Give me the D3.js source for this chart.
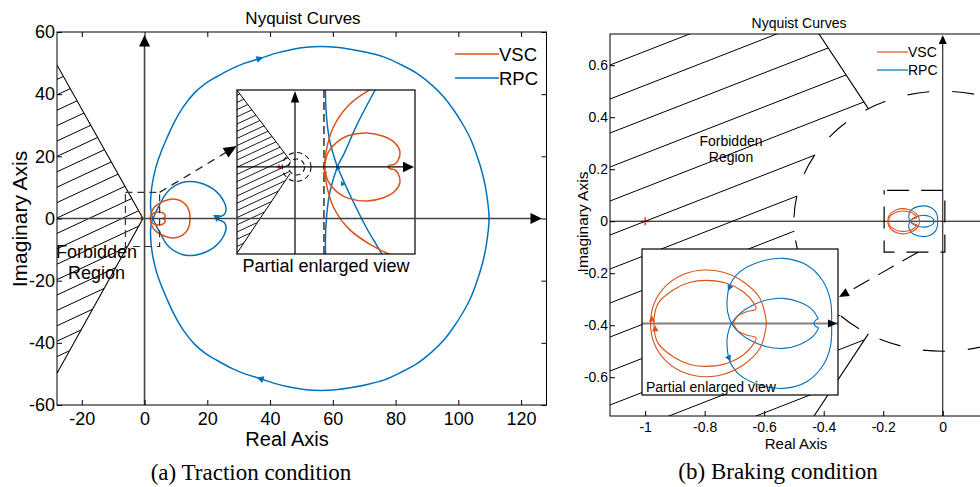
<!DOCTYPE html>
<html><head><meta charset="utf-8">
<script src="https://cdn.jsdelivr.net/npm/d3@7"></script>
<style>
body{margin:0;background:#fff}
svg{display:block}
text{font-family:"Liberation Sans",Arial,Helvetica,sans-serif;fill:#000}
.serif{font-family:"Liberation Serif","Times New Roman",serif}
</style></head>
<body><svg id="c" width="980" height="487"></svg>
<script>
// ================= DATA =================
const seriesNames = ["VSC", "RPC"];
// ---- Panel (a): traction condition ----
const aXTicks = [-20, 0, 20, 40, 60, 80, 100, 120];
const aYTicks = [-60, -40, -20, 0, 20, 40, 60];
const aXDomain = [-27.9, 128.1];
const aYDomain = [-60, 60];
const aRPC = [
 [2.65,0],[2.2,1.5],[1.98,3],[1.9,4.8],[2.0,7],[2.3,10],[2.9,13.5],[3.9,17.5],[5.3,21.5],[7.1,25.8],[9.5,31],
 [12.4,36],[16,40.5],[19.5,43.5],[23,45.6],[28,48.3],[32,50],[36.8,51.5],[42,53.2],[47,54.4],[51.5,55.1],[56,55.3],
 [61,55.1],[66,54.4],[71,53.4],[76.2,52],[81.5,49.6],[86.8,46.7],[91.5,43],[95.3,39.2],[98.8,34.5],[101.6,30],
 [103.8,25.8],[106,20],[107.8,14],[109,8],[109.8,0],
 [109,-8],[107.8,-14],[106,-20],[103.8,-25.8],[101.6,-30],[98.8,-34.5],[95.3,-39.2],[91.5,-43],[86.8,-46.7],
 [81.5,-49.6],[76.2,-52],[71,-53.4],[66,-54.4],[61,-55.1],[56,-55.3],[51.5,-55.1],[47,-54.4],[42,-53.2],[36.8,-51.5],
 [32,-50],[28,-48.3],[23,-45.6],[19.5,-43.5],[16,-40.5],[12.4,-36],[9.5,-31],[7.1,-25.8],[5.3,-21.5],[3.9,-17.5],
 [2.9,-13.5],[2.3,-10],[2.0,-7],[1.9,-4.8],[1.98,-3],[2.2,-1.5],[2.65,0],
 [3.1,0.9],[3.85,2.6],[5.0,4.8],[6.5,7.5],[8.2,9.5],[10.5,11],[13,11.8],[16,11.8],[19,11],[21.8,9.5],[24,7.5],
 [25.5,5],[26,3],[25.4,1.3],[23.8,0.5],[23,0],[23.8,-0.5],[25.4,-1.3],[26,-3],[25.5,-5],[24,-7.5],[21.8,-9.5],
 [19,-11],[16,-11.8],[13,-11.8],[10.5,-11],[8.2,-9.5],[6.5,-7.5],[5.4,-5.4],[4.48,-3.83],[3.44,-1.75],[2.65,0]
];
const aVSCOuter = [
 [1.85,0],[1.95,-1.0],[2.4,-2.5],[3.4,-3.9],[4.8,-4.9],[6.5,-5.7],[8.3,-6.2],[10.3,-6.1],[12.2,-5.3],[13.6,-3.8],
 [14.3,-2],[14.5,0],[14.3,2],[13.6,3.8],[12.2,5.3],[10.3,6.1],[8.3,6.2],[6.5,5.7],[4.8,4.9],[3.4,3.9],[2.4,2.5],
 [1.95,1.0],[1.85,0]
];
const aVSCInner = [
 [1.85,0],[1.9,0.35],[2.08,0.92],[2.6,1.54],[3.3,1.95],[4.48,2.12],[5.52,1.92],[6.25,1.5],[6.56,0.96],[6.46,0.45],
 [6.22,0.16],[5.98,0.13],[5.82,0],[5.98,-0.13],[6.22,-0.16],[6.46,-0.45],[6.56,-0.96],[6.25,-1.5],[5.52,-1.92],
 [4.48,-2.12],[3.3,-1.95],[2.6,-1.54],[2.08,-0.92],[1.9,-0.35],[1.85,0]
];
const aForbidden = [[-27.9,49.4],[-0.5,0],[-27.9,-49.8]];
const aCritical = [-1, 0];
const aZoomBoxX = [-6.1, 4.8];
const aZoomBoxY = [-9, 8.4];
const aMarkersRPC = [[36.8,51.5],[36.8,-51.5],[23,0]];
// inset (a)
const aInsetXDomain = [-3.625, 7.5];
const aInsetYDomain = [-5.44, 4.81];
const aInsetForbidden = [[-3.7,4.9],[-0.3,0.4],[-0.3,-0.4],[-3.7,-5.5]];
const aInsetCircleCenter = [0.1, 0];
const aInsetCircleRadii = [0.9, 0.5];
const aInsetDashX = 1.81;
const aInsetMarkersRPC = [[2.65,0],[2.95,-1.0]];
const aInsetMarkersVSC = [[1.87,-0.45]];

// ---- Panel (b): braking condition ----
const bXTicks = [-1, -0.8, -0.6, -0.4, -0.2, 0];
const bYTicks = [-0.6, -0.4, -0.2, 0, 0.2, 0.4, 0.6];
const bXDomain = [-1.118, 0.152];
const bYDomain = [-0.749, 0.72];
const bVSCOuter = [
 [-0.0774,0],[-0.0835,-0.0227],[-0.0990,-0.0379],[-0.1175,-0.0464],[-0.1360,-0.0485],[-0.1545,-0.0445],
 [-0.1699,-0.0348],[-0.1808,-0.0197],[-0.1848,0],[-0.1808,0.0197],[-0.1699,0.0348],[-0.1545,0.0445],
 [-0.1360,0.0485],[-0.1175,0.0464],[-0.0990,0.0379],[-0.0835,0.0227],[-0.0774,0]
];
const bVSCInner = [
 [-0.1082,0],[-0.1036,-0.0070],[-0.0959,-0.0106],[-0.0872,-0.0130],[-0.0891,-0.0182],[-0.0990,-0.0288],
 [-0.1144,-0.0364],[-0.1329,-0.0391],[-0.1483,-0.0373],[-0.1638,-0.0303],[-0.1777,-0.0182],[-0.1817,0],
 [-0.1777,0.0182],[-0.1638,0.0303],[-0.1483,0.0373],[-0.1329,0.0391],[-0.1144,0.0364],[-0.0990,0.0288],
 [-0.0891,0.0182],[-0.0872,0.0130],[-0.0959,0.0106],[-0.1036,0.0070],[-0.1082,0]
];
const bRPC = [
 [-0.0295,0.0039],[-0.0348,0.0121],[-0.0465,0.0191],[-0.0619,0.0227],[-0.0774,0.0212],[-0.0912,0.0161],
 [-0.1020,0.0091],[-0.1098,0],[-0.1135,-0.0106],[-0.1138,-0.0227],[-0.1113,-0.0348],[-0.1020,-0.0470],
 [-0.0835,-0.0561],[-0.0619,-0.0591],[-0.0403,-0.0530],[-0.0249,-0.0379],[-0.0181,-0.0197],[-0.0172,0],
 [-0.0181,0.0197],[-0.0249,0.0379],[-0.0403,0.0530],[-0.0619,0.0591],[-0.0835,0.0561],[-0.1020,0.0470],
 [-0.1113,0.0348],[-0.1138,0.0227],[-0.1135,0.0106],[-0.1098,0],[-0.1020,-0.0091],[-0.0912,-0.0161],
 [-0.0774,-0.0212],[-0.0619,-0.0227],[-0.0465,-0.0191],[-0.0348,-0.0121],[-0.0295,-0.0039],
 [-0.0322,-0.0027],[-0.0334,0],[-0.0322,0.0027],[-0.0295,0.0039]
];
const bCritical = [-1, 0];
const bCircleR = 0.5;
const bRadialDeg = [120, 240];
const bZoomBoxX = [-0.197, 0.007];
const bZoomBoxY = [-0.119, 0.119];
const bInsetXDomain = [-0.1927, -0.0113];
const bInsetYDomain = [-0.0651, 0.0676];
const bInsetMarkersVSC = [[-0.1835,0.0045,"outer"],[-0.1805,-0.0045,"inner"]];
const bInsetMarkersRPC = [[-0.112,0.032],[-0.112,-0.032]];

// ================= DRAWING =================
const ORANGE = "#D95319", BLUE = "#0072BD";
const svg = d3.select("#c");
const defs = svg.append("defs");
svg.append("rect").attr("width",980).attr("height",487).attr("fill","#fff");

function clipRect(id, x0, y0, x1, y1) {
  defs.append("clipPath").attr("id", id).append("rect")
    .attr("x", x0).attr("y", y0).attr("width", x1 - x0).attr("height", y1 - y0);
}
function clipPathD(id, d) { defs.append("clipPath").attr("id", id).append("path").attr("d", d); }
// decorative hatch lines (not data): parallel lines rising to the right, clipped by a region
function hatchLines(g, x0, x1, y0, y1, slope, vgap, refY, sw) {
  const rise = (x1 - x0) * slope;
  const kMin = Math.floor((y0 - refY) / vgap) - 1, kMax = Math.ceil((y1 + rise - refY) / vgap) + 1;
  const ks = d3.range(kMin, kMax + 1);
  g.selectAll(null).data(ks).join("line")
    .attr("x1", x0).attr("y1", k => refY + k * vgap).attr("x2", x1).attr("y2", k => refY + k * vgap - rise)
    .attr("stroke", "#000").attr("stroke-width", sw);
}
const lineGen = (x, y) => d3.line().x(d => x(d[0])).y(d => y(d[1])).curve(d3.curveCatmullRom.alpha(0.5));
const polyGen = (x, y) => d3.line().x(d => x(d[0])).y(d => y(d[1]));

function tri(g, px, py, ang, len, hw, color, centered) {
  const d = centered ? `M${len/2},0L${-len/2},${hw}L${-len/2},${-hw}Z` : `M0,0L${-len},${hw}L${-len},${-hw}Z`;
  g.append("path").attr("d", d).attr("transform", `translate(${px},${py}) rotate(${ang})`).attr("fill", color);
}
function dirOn(curve, p, x, y) {
  let bi = 0, bd = Infinity;
  curve.forEach((c, i) => { const d = (x(c[0]) - x(p[0])) ** 2 + (y(c[1]) - y(p[1])) ** 2; if (d < bd) { bd = d; bi = i; } });
  const a = curve[Math.max(bi - 1, 0)], b = curve[Math.min(bi + 1, curve.length - 1)];
  return Math.atan2(y(b[1]) - y(a[1]), x(b[0]) - x(a[0])) * 180 / Math.PI;
}
function plus(g, px, py, s, color) {
  g.append("path").attr("d", `M${px-s},${py}H${px+s}M${px},${py-s}V${py+s}`).attr("stroke", color).attr("stroke-width", 1.2);
}
function axes(g, x, y, xt, yt, fs, pads, sides) {
  const [x0, x1] = x.range(), [y0, y1] = y.range();
  const ax = [];
  ax.push(g.append("g").attr("transform", `translate(0,${y0})`)
    .call(d3.axisBottom(x).tickValues(xt).tickSizeInner(-5).tickSizeOuter(0).tickPadding(pads[0]).tickFormat(d => String(d))));
  ax.push(g.append("g").attr("transform", `translate(${x0},0)`)
    .call(d3.axisLeft(y).tickValues(yt).tickSizeInner(-5).tickSizeOuter(0).tickPadding(pads[1]).tickFormat(d => String(d))));
  if (sides) {
    ax.push(g.append("g").attr("transform", `translate(0,${y1})`)
      .call(d3.axisTop(x).tickValues(xt).tickSizeInner(-5).tickSizeOuter(0).tickFormat("")));
    ax.push(g.append("g").attr("transform", `translate(${x1},0)`)
      .call(d3.axisRight(y).tickValues(yt).tickSizeInner(-5).tickSizeOuter(0).tickFormat("")));
  }
  ax.forEach(a => {
    a.select(".domain").remove();
    a.selectAll(".tick line").attr("stroke", "#000");
    a.selectAll("text").attr("font-size", fs).attr("font-family", "'Liberation Sans',Arial,sans-serif").attr("fill", "#000");
  });
  g.append("rect").attr("x", x0).attr("y", y1).attr("width", x1 - x0).attr("height", y0 - y1)
    .attr("fill", "none").attr("stroke", "#000").attr("stroke-width", 1);
}

// ---------------- Panel (a) ----------------
{
  const x = d3.scaleLinear().domain(aXDomain).range([57, 546.5]);
  const y = d3.scaleLinear().domain(aYDomain).range([405, 32]);
  clipRect("clipA", 57, 32, 546.5, 405);
  const g = svg.append("g");
  const plot = g.append("g").attr("clip-path", "url(#clipA)");
  clipPathD("regA", polyGen(x, y)(aForbidden) + "Z");
  hatchLines(plot.append("g").attr("clip-path", "url(#regA)"), 57, 160, 32, 405, 0.466, 15.4, 295, 1);
  plot.append("path").attr("d", polyGen(x, y)(aForbidden)).attr("fill", "none").attr("stroke", "#000").attr("stroke-width", 1.1);
  g.append("text").attr("x", 96.5).attr("y", 252).attr("text-anchor", "middle").attr("dominant-baseline", "central").attr("font-size", 18).text("Forbidden");
  g.append("text").attr("x", 96.5).attr("y", 273).attr("text-anchor", "middle").attr("dominant-baseline", "central").attr("font-size", 18).text("Region");
  const L = lineGen(x, y);
  plot.append("path").attr("d", L(aRPC)).attr("fill", "none").attr("stroke", BLUE).attr("stroke-width", 1.5);
  plot.append("path").attr("d", L(aVSCOuter)).attr("fill", "none").attr("stroke", ORANGE).attr("stroke-width", 1.5);
  plot.append("path").attr("d", L(aVSCInner)).attr("fill", "none").attr("stroke", ORANGE).attr("stroke-width", 1.5);
  aMarkersRPC.forEach(p => tri(plot, x(p[0]), y(p[1]), dirOn(aRPC, p, x, y), 7, 3.5, BLUE, true));
  plus(plot, x(aCritical[0]), y(aCritical[1]), 4, "#ff0000");
  g.append("rect").attr("x", x(aZoomBoxX[0])).attr("y", y(aZoomBoxY[1]))
    .attr("width", x(aZoomBoxX[1]) - x(aZoomBoxX[0])).attr("height", y(aZoomBoxY[0]) - y(aZoomBoxY[1]))
    .attr("fill", "none").attr("stroke", "#333").attr("stroke-width", 1.2).attr("stroke-dasharray", "7,5");
  const sx = x(aZoomBoxX[1]), sy = y(aZoomBoxY[1]), tx = 236.7, ty = 146;
  const ang = Math.atan2(ty - sy, tx - sx) * 180 / Math.PI;
  g.append("line").attr("x1", sx).attr("y1", sy).attr("x2", tx - 10 * Math.cos(ang * Math.PI / 180)).attr("y2", ty - 10 * Math.sin(ang * Math.PI / 180))
    .attr("stroke", "#222").attr("stroke-width", 1.3).attr("stroke-dasharray", "8,6");
  tri(g, tx, ty, ang, 13, 5.5, "#000", false);

  // ---- inset (a) ----
  const IX0 = 237, IX1 = 415, IY0 = 90, IY1 = 254;
  const ix = d3.scaleLinear().domain(aInsetXDomain).range([IX0, IX1]);
  const iy = d3.scaleLinear().domain(aInsetYDomain).range([IY1, IY0]);
  clipRect("clipAi", IX0, IY0, IX1, IY1);
  const ig = g.append("g");
  ig.append("rect").attr("x", IX0).attr("y", IY0).attr("width", IX1 - IX0).attr("height", IY1 - IY0).attr("fill", "#fff");
  const ic = ig.append("g").attr("clip-path", "url(#clipAi)");
  clipPathD("regAi", polyGen(ix, iy)(aInsetForbidden) + "Z");
  hatchLines(ic.append("g").attr("clip-path", "url(#regAi)"), IX0, 300, IY0, IY1, 0.466, 7.2, 160, 0.9);
  ic.append("path").attr("d", polyGen(ix, iy)(aInsetForbidden.slice(0, 2))).attr("fill", "none").attr("stroke", "#000").attr("stroke-width", 1);
  ic.append("path").attr("d", polyGen(ix, iy)(aInsetForbidden.slice(2))).attr("fill", "none").attr("stroke", "#000").attr("stroke-width", 1);
  aInsetCircleRadii.forEach(r => {
    ic.append("ellipse").attr("cx", ix(aInsetCircleCenter[0])).attr("cy", iy(aInsetCircleCenter[1]))
      .attr("rx", ix(r) - ix(0)).attr("ry", iy(0) - iy(r)).attr("fill", "none")
      .attr("stroke", "#111").attr("stroke-width", 1.1).attr("stroke-dasharray", "5,3.5");
  });
  plus(ic, ix(aCritical[0]), iy(aCritical[1]), 2.5, "#ff0000");
  ic.append("line").attr("x1", ix(aInsetDashX)).attr("x2", ix(aInsetDashX)).attr("y1", IY0).attr("y2", IY1)
    .attr("stroke", "#333").attr("stroke-width", 1.5).attr("stroke-dasharray", "8,4");
  const IL = lineGen(ix, iy);
  ic.append("path").attr("d", IL(aRPC)).attr("fill", "none").attr("stroke", BLUE).attr("stroke-width", 1.5);
  ic.append("path").attr("d", IL(aVSCOuter)).attr("fill", "none").attr("stroke", ORANGE).attr("stroke-width", 1.5);
  ic.append("path").attr("d", IL(aVSCInner)).attr("fill", "none").attr("stroke", ORANGE).attr("stroke-width", 1.5);
  aInsetMarkersRPC.forEach(p => tri(ic, ix(p[0]), iy(p[1]), dirOn(aRPC, p, ix, iy), 5, 2.5, BLUE, true));
  aInsetMarkersVSC.forEach(p => tri(ic, ix(p[0]), iy(p[1]), dirOn(aVSCOuter, p, ix, iy), 5, 2.5, ORANGE, true));
  ig.append("line").attr("x1", ix(0)).attr("x2", ix(0)).attr("y1", IY1).attr("y2", IY0 + 8).attr("stroke", "#000").attr("stroke-width", 1.2);
  tri(ig, ix(0), IY0 + 1, -90, 11.5, 4.2, "#000", false);
  ig.append("line").attr("x1", IX0).attr("x2", IX1 - 8).attr("y1", iy(0)).attr("y2", iy(0)).attr("stroke", "#000").attr("stroke-width", 1.2);
  tri(ig, IX1 - 1, iy(0), 0, 11, 5.2, "#000", false);
  ig.append("rect").attr("x", IX0).attr("y", IY0).attr("width", IX1 - IX0).attr("height", IY1 - IY0)
    .attr("fill", "none").attr("stroke", "#000").attr("stroke-width", 1.2);
  g.append("text").attr("x", 326).attr("y", 266).attr("text-anchor", "middle").attr("dominant-baseline", "central").attr("font-size", 18).text("Partial enlarged view");

  g.append("line").attr("x1", 57).attr("x2", 533).attr("y1", y(0)).attr("y2", y(0)).attr("stroke", "#444").attr("stroke-width", 1.6);
  tri(g, 542, y(0), 0, 11.5, 5.5, "#000", false);
  g.append("line").attr("x1", x(0)).attr("x2", x(0)).attr("y1", 405).attr("y2", 44).attr("stroke", "#444").attr("stroke-width", 1.6);
  tri(g, x(0), 35, -90, 11.5, 5.5, "#000", false);

  axes(g, x, y, aXTicks, aYTicks, 18, [7, 2], true);

  const lg = g.append("g");
  [[seriesNames[0], ORANGE, 54], [seriesNames[1], BLUE, 78]].forEach(([n, c, yy]) => {
    lg.append("line").attr("x1", 455).attr("x2", 499).attr("y1", yy).attr("y2", yy).attr("stroke", c).attr("stroke-width", 1.6);
    lg.append("text").attr("x", 499).attr("y", yy).attr("dominant-baseline", "central").attr("font-size", 18.5).text(n);
  });
  g.append("text").attr("x", 303).attr("y", 18).attr("text-anchor", "middle").attr("dominant-baseline", "central").attr("font-size", 17).text("Nyquist Curves");
  g.append("text").attr("x", 287).attr("y", 439).attr("text-anchor", "middle").attr("dominant-baseline", "central").attr("font-size", 20).text("Real Axis");
  g.append("text").attr("transform", "translate(19,219) rotate(-90)").attr("text-anchor", "middle").attr("dominant-baseline", "central").attr("font-size", 21).text("Imaginary Axis");
  g.append("text").attr("class", "serif").attr("x", 251).attr("y", 480).attr("text-anchor", "middle").attr("font-size", 23).text("(a) Traction condition");
}

// ---------------- Panel (b) ----------------
{
  const X0 = 610, X1 = 988, Y0 = 416, Y1 = 34;
  const x = d3.scaleLinear().domain(bXDomain).range([X0, X1]);
  const y = d3.scaleLinear().domain(bYDomain).range([Y0, Y1]);
  clipRect("clipB", X0, Y1, X1, Y0);
  const g = svg.append("g");
  const plot = g.append("g").attr("clip-path", "url(#clipB)");
  const rx = x(bCircleR) - x(0), ry = y(0) - y(bCircleR);
  const pt = (r, deg) => [r * Math.cos(deg * Math.PI / 180), r * Math.sin(deg * Math.PI / 180)];
  const a1 = pt(bCircleR, bRadialDeg[0]), a2 = pt(bCircleR, bRadialDeg[1]);
  const o1 = pt(1.1, bRadialDeg[0]), o2 = pt(1.1, bRadialDeg[1]);
  const regionPath = `M${x(o1[0])},${y(o1[1])}L${x(a1[0])},${y(a1[1])}A${rx},${ry} 0 0 0 ${x(a2[0])},${y(a2[1])}` +
    `L${x(o2[0])},${y(o2[1])}L${x(-1.4)},${y(o2[1])}L${x(-1.4)},${y(o1[1])}Z`;
  clipPathD("regB", regionPath);
  hatchLines(plot.append("g").attr("clip-path", "url(#regB)"), X0, 880, Y1, Y0, 0.39, 34, 65, 1);
  plot.append("path").attr("d", `M${x(o1[0])},${y(o1[1])}L${x(a1[0])},${y(a1[1])}M${x(o2[0])},${y(o2[1])}L${x(a2[0])},${y(a2[1])}`)
    .attr("stroke", "#000").attr("stroke-width", 1.1);
  plot.append("ellipse").attr("cx", x(0)).attr("cy", y(0)).attr("rx", rx).attr("ry", ry).attr("fill", "none")
    .attr("stroke", "#000").attr("stroke-width", 1.1).attr("stroke-dasharray", "22,23").attr("stroke-dashoffset", 8);
  g.append("text").attr("x", 731).attr("y", 141).attr("text-anchor", "middle").attr("dominant-baseline", "central").attr("font-size", 14).text("Forbidden");
  g.append("text").attr("x", 731).attr("y", 157).attr("text-anchor", "middle").attr("dominant-baseline", "central").attr("font-size", 14).text("Region");
  plus(plot, x(bCritical[0]), y(bCritical[1]), 4, "#ff0000");
  plot.append("line").attr("x1", X0).attr("x2", X1).attr("y1", y(0)).attr("y2", y(0)).attr("stroke", "#000").attr("stroke-width", 1);
  g.append("line").attr("x1", x(0)).attr("x2", x(0)).attr("y1", Y0).attr("y2", Y1 + 8).attr("stroke", "#000").attr("stroke-width", 1);
  tri(g, x(0), Y1 + 1, -90, 9, 4, "#000", false);
  const L = lineGen(x, y);
  plot.append("path").attr("d", L(bRPC)).attr("fill", "none").attr("stroke", BLUE).attr("stroke-width", 1.1);
  plot.append("path").attr("d", L(bVSCOuter)).attr("fill", "none").attr("stroke", ORANGE).attr("stroke-width", 1.1);
  plot.append("path").attr("d", L(bVSCInner)).attr("fill", "none").attr("stroke", ORANGE).attr("stroke-width", 1.1);
  g.append("rect").attr("x", x(bZoomBoxX[0])).attr("y", y(bZoomBoxY[1]))
    .attr("width", x(bZoomBoxX[1]) - x(bZoomBoxX[0])).attr("height", y(bZoomBoxY[0]) - y(bZoomBoxY[1]))
    .attr("fill", "none").attr("stroke", "#000").attr("stroke-width", 1.2).attr("stroke-dasharray", "22,12").attr("stroke-dashoffset", -3);
  const sx = x(-0.083), sy = y(bZoomBoxY[0]), tx = 839, ty = 297;
  const ang = Math.atan2(ty - sy, tx - sx) * 180 / Math.PI;
  g.append("line").attr("x1", sx).attr("y1", sy).attr("x2", tx - 8 * Math.cos(ang * Math.PI / 180)).attr("y2", ty - 8 * Math.sin(ang * Math.PI / 180))
    .attr("stroke", "#000").attr("stroke-width", 1.1).attr("stroke-dasharray", "18,10");

  // ---- inset (b) ----
  const IX0 = 642, IX1 = 838, IY0 = 249, IY1 = 395;
  const ix = d3.scaleLinear().domain(bInsetXDomain).range([IX0, IX1]);
  const iy = d3.scaleLinear().domain(bInsetYDomain).range([IY1, IY0]);
  clipRect("clipBi", IX0, IY0, IX1, IY1);
  const ig = g.append("g");
  ig.append("rect").attr("x", IX0).attr("y", IY0).attr("width", IX1 - IX0).attr("height", IY1 - IY0).attr("fill", "#fff");
  const ic = ig.append("g").attr("clip-path", "url(#clipBi)");
  ic.append("line").attr("x1", IX0).attr("x2", IX1).attr("y1", iy(0)).attr("y2", iy(0)).attr("stroke", "#808080").attr("stroke-width", 2);
  const IL = lineGen(ix, iy);
  ic.append("path").attr("d", IL(bRPC)).attr("fill", "none").attr("stroke", BLUE).attr("stroke-width", 1.1);
  ic.append("path").attr("d", IL(bVSCOuter)).attr("fill", "none").attr("stroke", ORANGE).attr("stroke-width", 1.1);
  ic.append("path").attr("d", IL(bVSCInner)).attr("fill", "none").attr("stroke", ORANGE).attr("stroke-width", 1.1);
  bInsetMarkersVSC.forEach(p => tri(ic, ix(p[0]), iy(p[1]), dirOn(p[2] === "outer" ? bVSCOuter : bVSCInner, p, ix, iy), 6, 3.2, ORANGE, true));
  bInsetMarkersRPC.forEach(p => tri(ic, ix(p[0]), iy(p[1]), dirOn(bRPC, p, ix, iy), 6, 3.2, BLUE, true));
  ig.append("rect").attr("x", IX0).attr("y", IY0).attr("width", IX1 - IX0).attr("height", IY1 - IY0)
    .attr("fill", "none").attr("stroke", "#000").attr("stroke-width", 1.2);
  tri(ig, 837, iy(0), 0, 9, 4, "#000", false);
  tri(g, tx, ty, ang, 10, 4.5, "#000", false);
  ig.append("text").attr("x", 646).attr("y", 387).attr("dominant-baseline", "central").attr("font-size", 14).text("Partial enlarged view");

  axes(g, x, y, bXTicks, bYTicks, 14, [6, 2], false);

  const lg = g.append("g");
  [[seriesNames[0], ORANGE, 52], [seriesNames[1], BLUE, 70]].forEach(([n, c, yy]) => {
    lg.append("line").attr("x1", 877).attr("x2", 908).attr("y1", yy).attr("y2", yy).attr("stroke", c).attr("stroke-width", 1.2);
    lg.append("text").attr("x", 908).attr("y", yy).attr("dominant-baseline", "central").attr("font-size", 14).text(n);
  });
  g.append("text").attr("x", 799).attr("y", 23).attr("text-anchor", "middle").attr("dominant-baseline", "central").attr("font-size", 14).text("Nyquist Curves");
  g.append("text").attr("x", 796).attr("y", 443).attr("text-anchor", "middle").attr("dominant-baseline", "central").attr("font-size", 15).text("Real Axis");
  g.append("text").attr("transform", "translate(582,222) rotate(-90)").attr("text-anchor", "middle").attr("dominant-baseline", "central").attr("font-size", 15.5).text("Imaginary Axis");
  g.append("text").attr("class", "serif").attr("x", 778).attr("y", 479).attr("text-anchor", "middle").attr("font-size", 23).text("(b) Braking condition");
}
</script>
</body></html>
